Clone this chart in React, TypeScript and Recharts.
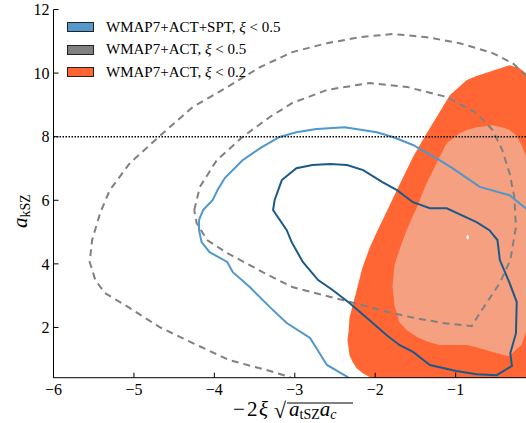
import React from "react";
import {
  ComposedChart,
  Area,
  Line,
  Scatter,
  XAxis,
  YAxis,
  ReferenceLine,
  Legend,
  Label,
} from "recharts";

const FONT = "'Liberation Serif', 'Times New Roman', serif";

const xTicks = [-6, -5, -4, -3, -2, -1];
const yTicks = [2, 4, 6, 8, 10, 12];
const xDomain = [-6, -0.125];
const yDomain = [0.42, 12];
const kszLimit = 8;

// WMAP7+ACT, xi < 0.2 : outer (95%) filled region
const orangeX = [-2.345, -2.33, -2.32, -2.28, -2.23, -2.16, -2.07, -1.98, -1.86, -1.73, -1.53, -1.36, -1.2, -1.07, -0.86, -0.74, -0.52, -0.33, -0.21, -0.13, -0.02];
const orangeLo = [1.6, 1.35, 1.13, 0.91, 0.72, 0.57, 0.44, 0.35, 0, 0, 0, 0, 0, 0, 0, 0, 0, 0, 0, 0, 0];
const orangeHi = [1.6, 1.9, 2.3, 2.7, 3.18, 3.87, 4.5, 5.0, 5.63, 6.32, 7.36, 8.11, 8.77, 9.31, 9.78, 9.91, 10.09, 10.25, 10.16, 10.0, 9.62];

// WMAP7+ACT, xi < 0.2 : inner (68%) filled region
const salmonX = [-1.785, -1.76, -1.7, -1.61, -1.48, -1.36, -1.29, -1.2, -1.11, -0.95, -0.86, -0.74, -0.54, -0.39, -0.33, -0.24, -0.18, -0.13, -0.06];
const salmonLo = [3.3, 2.7, 2.17, 1.92, 1.7, 1.57, 1.51, 1.45, 1.45, 1.45, 1.45, 1.38, 1.23, 1.13, 1.1, 1.32, 1.45, 1.82, 2.39];
const salmonHi = [3.3, 3.96, 4.43, 5.06, 5.79, 6.54, 6.89, 7.36, 7.8, 8.11, 8.21, 8.3, 8.36, 8.27, 8.21, 8.02, 7.74, 7.42, 6.79];

// WMAP7+ACT, xi < 0.5 : dashed contours
const greyOuterX = [-3.0, -3.06, -3.35, -3.81, -4.27, -4.68, -5.05, -5.36, -5.48, -5.55, -5.52, -5.42, -5.3, -5.05, -4.64, -4.27, -3.84, -3.43, -3.03, -2.6, -2.19, -1.78, -1.36, -0.95, -0.54, -0.29, -0.13, 0.04];
const greyOuterY = [0.3, 0.44, 0.66, 0.97, 1.51, 2.01, 2.61, 3.08, 3.49, 4.06, 4.75, 5.6, 6.32, 7.17, 8.11, 8.93, 9.56, 10.19, 10.66, 10.94, 11.13, 11.23, 11.13, 10.94, 10.63, 10.31, 9.94, 9.47];
const greyInnerX = [-4.25, -4.18, -3.97, -3.65, -3.31, -3.03, -2.6, -2.07, -1.6, -1.11, -0.74, -0.54, -0.42, -0.33, -0.27, -0.25, -0.32, -0.45, -0.7, -0.8, -1.16, -1.57, -1.78, -2.4, -3.03, -3.4, -3.56, -3.84, -4.09, -4.22, -4.25];
const greyInnerY = [5.69, 6.42, 7.26, 7.99, 8.62, 9.06, 9.47, 9.69, 9.56, 9.25, 8.74, 8.21, 7.58, 6.86, 6.1, 5.16, 4.12, 3.4, 2.45, 2.04, 2.14, 2.33, 2.45, 2.86, 3.27, 3.74, 3.96, 4.34, 4.75, 5.28, 5.69];

// WMAP7+ACT+SPT, xi < 0.5 : solid contours
const blueOuterX = [-2.32, -2.34, -2.6, -2.81, -3.1, -3.31, -3.56, -3.77, -3.84, -4.06, -4.16, -4.19, -4.19, -4.14, -4.02, -3.96, -3.87, -3.65, -3.43, -3.19, -2.98, -2.73, -2.38, -1.98, -1.78, -1.53, -1.2, -1.04, -0.7, -0.33, -0.13, 0.04];
const blueOuterY = [0.28, 0.44, 0.82, 1.67, 2.14, 2.64, 3.27, 3.74, 4.06, 4.37, 4.69, 5.06, 5.38, 5.69, 6.01, 6.32, 6.7, 7.26, 7.64, 7.99, 8.14, 8.24, 8.3, 8.14, 7.99, 7.74, 7.26, 7.01, 6.42, 6.16, 5.75, 5.44];
const blueInnerX = [-3.16, -3.25, -3.27, -3.1, -3.04, -2.9, -2.71, -2.53, -2.32, -2.07, -1.86, -1.7, -1.53, -1.32, -0.99, -0.74, -0.49, -0.3, -0.32, -0.25, -0.24, -0.33, -0.45, -0.48, -0.58, -0.74, -1.11, -1.32, -1.53, -1.73, -1.91, -2.15, -2.35, -2.56, -2.78, -2.98, -3.16];
const blueInnerY = [6.64, 6.01, 5.69, 5.06, 4.69, 4.06, 3.49, 3.18, 2.77, 2.23, 1.76, 1.45, 1.23, 0.82, 0.63, 0.53, 0.5, 0.79, 1.19, 1.82, 2.8, 3.4, 4.12, 4.75, 5.06, 5.31, 5.75, 5.75, 5.94, 6.32, 6.57, 6.95, 7.11, 7.14, 7.11, 7.01, 6.64];

const bestFitX = [-0.85];
const bestFitY = [4.84];

const legendNames = ["WMAP7+ACT+SPT", "WMAP7+ACT", "WMAP7+ACT"];
const legendXi = ["0.5", "0.5", "0.2"];
const legendColors = ["#5599CC", "#808080", "#FF6633"];

const ORANGE = "#FF6633";
const SALMON = "#F5A081";
const LIGHT_BLUE = "#4F97CC";
const DARK_BLUE = "#1B5A88";
const GREY = "#808080";

const pts = (xs: number[], ys: number[]) => xs.map((x, i) => ({ x, y: ys[i] }));
const band = (xs: number[], lo: number[], hi: number[]) =>
  xs.map((x, i) => ({ x, band: [lo[i], hi[i]] }));

const minus = (v: number) => (v < 0 ? `\u2212${Math.abs(v)}` : `${v}`);

// serif tick labels (matplotlib look)
const XTick = (p: any) => (
  <text x={p.x} y={p.y} dy="0.71em" textAnchor="middle" fontFamily={FONT} fontSize={16} fill="#000">
    {minus(p.payload.value)}
  </text>
);
const YTick = (p: any) => (
  <text x={p.x} y={p.y} dy="0.355em" textAnchor="end" fontFamily={FONT} fontSize={16} fill="#000">
    {minus(p.payload.value)}
  </text>
);

function LegendBox() {
  return (
    <div style={{ fontFamily: FONT, fontSize: 15, color: "#000" }}>
      {legendNames.map((name, i) => (
        <div key={i} style={{ display: "flex", alignItems: "center", height: 22.5 }}>
          <span
            style={{
              display: "inline-block",
              width: 25,
              height: 8,
              background: legendColors[i],
              border: "1px solid #222",
              marginRight: 12,
            }}
          />
          <span style={{ whiteSpace: "nowrap" }}>
            {name}, <i>ξ</i> &lt; {legendXi[i]}
          </span>
        </div>
      ))}
    </div>
  );
}

function XLabel() {
  return (
    <g fontFamily={FONT} fill="#000">
      <text y={416} fontSize={21}>
        <tspan x={233}>−</tspan>
        <tspan x={247}>2</tspan>
        <tspan x={259} fontStyle="italic">ξ</tspan>
      </text>
      <text x={274} y={418} fontSize={22}>√</text>
      <line x1={287} x2={353} y1={403} y2={403} stroke="#000" strokeWidth={1} />
      <text x={289} y={416} fontSize={21} fontStyle="italic">
        a
        <tspan fontSize={14} fontStyle="normal" dy={3}>tSZ</tspan>
        <tspan dy={-3}>a</tspan>
        <tspan fontSize={14} dy={3}>c</tspan>
      </text>
    </g>
  );
}

function YLabel() {
  return (
    <text transform="translate(27,228) rotate(-90)" fontFamily={FONT} fontSize={21} fill="#000">
      <tspan fontStyle="italic">a</tspan>
      <tspan fontSize={14} dy={3}>kSZ</tspan>
    </text>
  );
}

const BestFit = (props: any) => (
  <ellipse cx={props.cx} cy={props.cy} rx={1.2} ry={2.2} fill="#fff" />
);

export default function App() {
  return (
    <div style={{ position: "absolute", left: 0, top: 0, width: 526, height: 423, background: "#fff", fontFamily: FONT }}>
      <ComposedChart width={526} height={423} margin={{ top: 9.5, right: 0, bottom: 0, left: 0 }}>
        <XAxis
          xAxisId="top"
          orientation="top"
          type="number"
          domain={xDomain}
          ticks={xTicks}
          allowDataOverflow
          height={0}
          tickSize={-5}
          tickFormatter={() => ""}
          axisLine={{ stroke: "#000" }}
          tickLine={{ stroke: "#000" }}
        />
        <XAxis
          dataKey="x"
          type="number"
          domain={xDomain}
          ticks={xTicks}
          allowDataOverflow
          height={45.3}
          tickSize={-5}
          tickMargin={11}
          tick={XTick}
          axisLine={{ stroke: "#000" }}
          tickLine={{ stroke: "#000" }}
        >
          <Label content={() => <XLabel />} />
        </XAxis>
        <YAxis
          type="number"
          domain={yDomain}
          ticks={yTicks}
          allowDataOverflow
          width={53.5}
          tickSize={-5}
          tickMargin={9}
          tick={YTick}
          axisLine={{ stroke: "#000" }}
          tickLine={{ stroke: "#000" }}
        >
          <Label content={() => <YLabel />} />
        </YAxis>

        <Area
          data={band(orangeX, orangeLo, orangeHi)}
          dataKey="band"
          type="linear"
          stroke="none"
          fill={ORANGE}
          fillOpacity={1}
          dot={false}
          activeDot={false}
          isAnimationActive={false}
        />
        <Area
          data={band(salmonX, salmonLo, salmonHi)}
          dataKey="band"
          type="linear"
          stroke="none"
          fill={SALMON}
          fillOpacity={1}
          dot={false}
          activeDot={false}
          isAnimationActive={false}
        />

        <Line data={pts(greyOuterX, greyOuterY)} dataKey="y" type="linear" stroke={GREY} strokeWidth={2} strokeDasharray="7 5" dot={false} activeDot={false} isAnimationActive={false} />
        <Line data={pts(greyInnerX, greyInnerY)} dataKey="y" type="linear" stroke={GREY} strokeWidth={2} strokeDasharray="7 5" dot={false} activeDot={false} isAnimationActive={false} />
        <Line data={pts(blueOuterX, blueOuterY)} dataKey="y" type="linear" stroke={LIGHT_BLUE} strokeWidth={2} dot={false} activeDot={false} isAnimationActive={false} />
        <Line data={pts(blueInnerX, blueInnerY)} dataKey="y" type="linear" stroke={DARK_BLUE} strokeWidth={2} dot={false} activeDot={false} isAnimationActive={false} />

        <ReferenceLine y={kszLimit} stroke="#000" strokeWidth={1.5} strokeDasharray="1.5 1.5" />

        <Scatter data={pts(bestFitX, bestFitY)} dataKey="y" shape={BestFit} isAnimationActive={false} />

        <Legend
          layout="vertical"
          verticalAlign="middle"
          align="center"
          wrapperStyle={{ left: 67, top: 16, width: "auto" }}
          content={() => <LegendBox />}
        />
      </ComposedChart>
    </div>
  );
}
